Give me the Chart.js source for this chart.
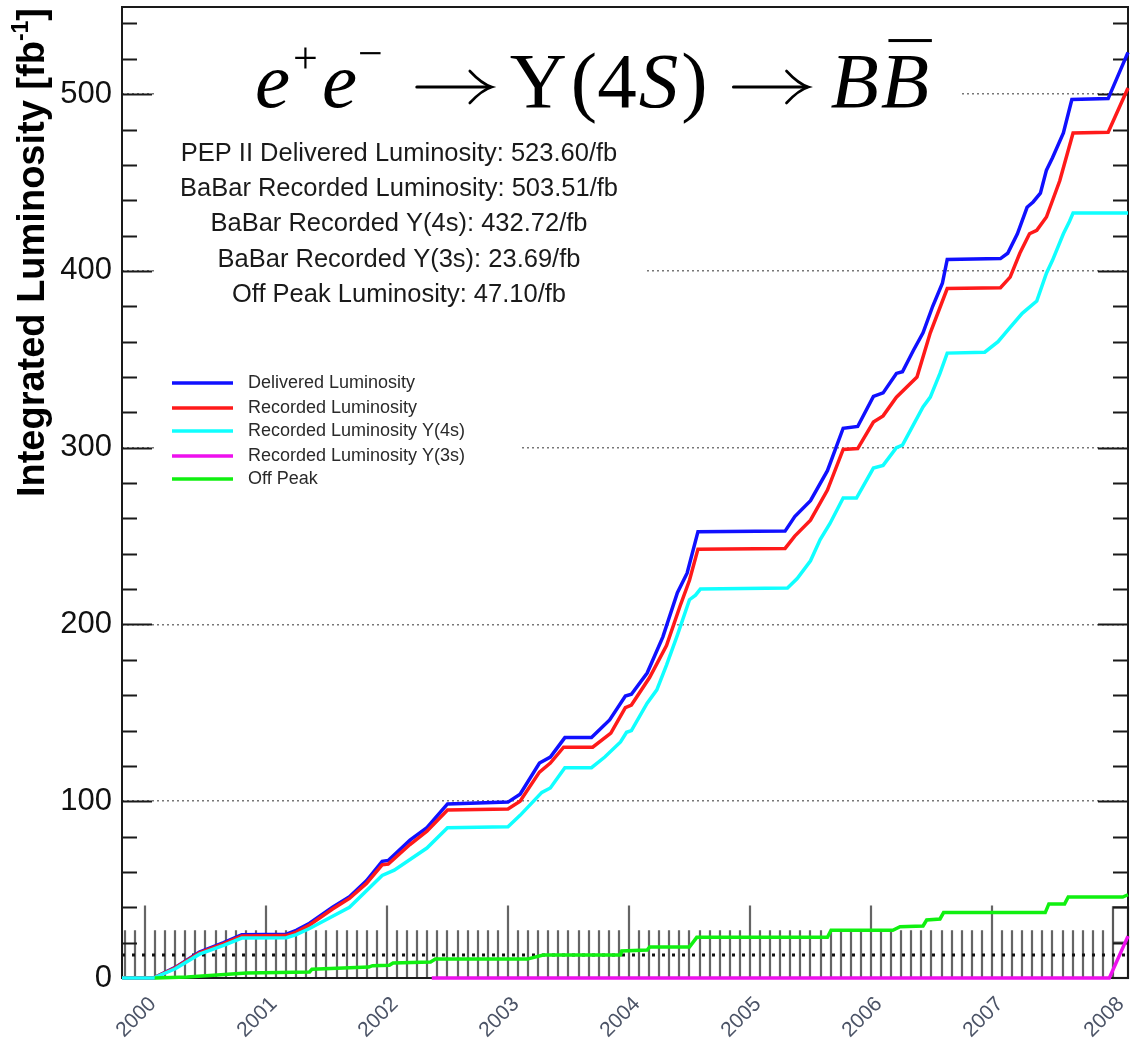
<!DOCTYPE html>
<html>
<head>
<meta charset="utf-8">
<title>BaBar integrated luminosity</title>
<script src="https://cdn.jsdelivr.net/npm/chart.js@4.4.1/dist/chart.umd.min.js"></script>
<style>
  html, body { margin: 0; padding: 0; background: #fff; }
  canvas { display: block; }
</style>
</head>
<body>
<canvas id="lumi" width="1135" height="1043"></canvas>
<script>
// ---- data: [decimal year, integrated luminosity in fb^-1] ----
const yearTicks = [2000, 2001, 2002, 2003, 2004, 2005, 2006, 2007, 2008];
const lumiTicks = [0, 100, 200, 300, 400, 500];

const delivered = [
  [1999.81, 0], [2000.07, 0], [2000.25, 6], [2000.45, 14.7], [2000.65, 20], [2000.80, 24.5],
  [2001.17, 24.8], [2001.25, 27], [2001.36, 31], [2001.55, 40], [2001.69, 46], [2001.83, 55],
  [2001.96, 66], [2002.01, 66.5], [2002.19, 78], [2002.33, 85], [2002.50, 98.5], [2003.00, 99.5],
  [2003.10, 104], [2003.26, 121.6], [2003.35, 125], [2003.47, 136], [2003.69, 136], [2003.84, 146],
  [2003.97, 159.5], [2004.02, 160.5], [2004.15, 172.5], [2004.28, 193], [2004.40, 218], [2004.48, 229],
  [2004.57, 252.5], [2005.29, 252.8], [2005.37, 261], [2005.50, 270], [2005.64, 287], [2005.77, 311],
  [2005.89, 312], [2006.02, 329], [2006.10, 331], [2006.21, 342], [2006.26, 343], [2006.35, 355],
  [2006.43, 365], [2006.51, 380], [2006.59, 393], [2006.63, 406.5], [2007.07, 407], [2007.13, 410],
  [2007.21, 421], [2007.29, 436], [2007.34, 439], [2007.40, 444], [2007.45, 457], [2007.50, 464],
  [2007.59, 478], [2007.66, 497], [2007.96, 497.5], [2008.124, 523.6]
];

const recorded = [
  [1999.81, 0], [2000.07, 0], [2000.25, 5.8], [2000.45, 14.2], [2000.65, 19.5], [2000.80, 23.8],
  [2001.17, 24], [2001.25, 26], [2001.36, 30], [2001.55, 39], [2001.69, 45], [2001.83, 53.5],
  [2001.96, 64], [2002.01, 64.5], [2002.19, 75.5], [2002.33, 83], [2002.50, 95], [2003.00, 95.6],
  [2003.10, 100], [2003.26, 116.5], [2003.35, 121.6], [2003.46, 130.6], [2003.70, 130.6], [2003.85, 138.5],
  [2003.97, 153], [2004.02, 154.4], [2004.17, 170], [2004.31, 188], [2004.42, 210], [2004.50, 225],
  [2004.57, 242.6], [2005.29, 243], [2005.37, 250], [2005.50, 259], [2005.64, 276], [2005.77, 299],
  [2005.89, 299.5], [2006.02, 314.5], [2006.10, 318], [2006.21, 328.6], [2006.38, 340], [2006.49, 365],
  [2006.63, 390], [2007.07, 390.5], [2007.15, 396.5], [2007.23, 410], [2007.31, 421], [2007.37, 423],
  [2007.45, 430.5], [2007.56, 451], [2007.67, 478], [2007.96, 478.5], [2008.124, 503.5]
];

const recorded4S = [
  [1999.81, 0], [2000.07, 0], [2000.25, 5.2], [2000.45, 13.5], [2000.65, 18.5], [2000.80, 22.6],
  [2001.17, 22.8], [2001.25, 24.5], [2001.36, 28], [2001.69, 40], [2001.96, 58], [2002.06, 61],
  [2002.33, 73.5], [2002.50, 85], [2003.00, 85.5], [2003.10, 92], [2003.28, 105], [2003.35, 107.5],
  [2003.47, 119], [2003.69, 119], [2003.80, 125], [2003.93, 133.5], [2003.98, 139], [2004.02, 140],
  [2004.15, 155.5], [2004.23, 163], [2004.31, 177], [2004.40, 194], [2004.50, 214], [2004.55, 216.6],
  [2004.59, 220], [2005.31, 220.6], [2005.39, 226], [2005.50, 236], [2005.58, 248], [2005.66, 257],
  [2005.77, 271.5], [2005.88, 271.5], [2006.02, 288.5], [2006.10, 290], [2006.21, 300], [2006.26, 301.5],
  [2006.43, 323], [2006.49, 328.6], [2006.57, 342], [2006.63, 353.5], [2006.94, 354], [2007.05, 360],
  [2007.15, 368], [2007.25, 376], [2007.37, 383], [2007.45, 398.7], [2007.50, 406], [2007.59, 421],
  [2007.64, 428], [2007.67, 432.7], [2008.124, 432.72]
];

const recorded3S = [
  [2002.37, 0], [2007.97, 0], [2008.124, 23.69]
];

const offPeak = [
  [2000.08, 0], [2000.35, 0.5], [2000.84, 2.8], [2001.36, 3.4], [2001.38, 5], [2001.85, 6.2],
  [2001.88, 7.0], [2002.02, 7.2], [2002.05, 8.5], [2002.36, 9], [2002.40, 10.7], [2003.16, 10.7],
  [2003.29, 13], [2003.93, 13], [2003.94, 15.3], [2004.15, 15.8], [2004.17, 17.5], [2004.50, 17.5],
  [2004.56, 23], [2005.64, 23], [2005.67, 27], [2006.18, 27], [2006.24, 29], [2006.43, 29.4],
  [2006.46, 32.8], [2006.57, 33.4], [2006.60, 37], [2007.44, 37], [2007.47, 41.9], [2007.60, 41.9],
  [2007.63, 45.8], [2008.08, 45.8], [2008.124, 47.1]
];

const seriesLabels = [
  'Delivered Luminosity', 'Recorded Luminosity', 'Recorded Luminosity Y(4s)',
  'Recorded Luminosity Y(3s)', 'Off Peak'
];
const seriesData = [delivered, recorded, recorded4S, recorded3S, offPeak];
const seriesColors = ['#1010ff', '#ff1a1a', '#10ffff', '#ee10ee', '#10f010'];

const summaryLines = [
  'PEP II Delivered Luminosity: 523.60/fb',
  'BaBar Recorded Luminosity: 503.51/fb',
  'BaBar Recorded Y(4s): 432.72/fb',
  'BaBar Recorded Y(3s): 23.69/fb',
  'Off Peak Luminosity: 47.10/fb'
];

// run-period marker histogram along the bottom of the frame (fb^-1)
const monthMarkHeight = 27;
const yearMarkHeight = 41;
const markerLevel = 13;
const lastBinTop = 40;
const lastBinMid = 20;

// ---- drawing helpers ----
const SANS = '"Liberation Sans", Arial, Helvetica, sans-serif';
const SERIF = '"Liberation Serif", "Times New Roman", serif';

// long reaction arrow, drawn with strokes so it has the width of a math arrow
function drawArrow(ctx, x, w, yAxis) {
  ctx.save();
  ctx.strokeStyle = '#000';
  ctx.lineWidth = 3;
  ctx.lineCap = 'round';
  ctx.beginPath();
  ctx.moveTo(x + 2, yAxis);
  ctx.lineTo(x + w - 2, yAxis);
  ctx.stroke();
  ctx.lineWidth = 2.6;
  ctx.beginPath();
  ctx.moveTo(x + w - 22, yAxis - 16);
  ctx.quadraticCurveTo(x + w - 10, yAxis - 3, x + w, yAxis);
  ctx.quadraticCurveTo(x + w - 10, yAxis + 3, x + w - 22, yAxis + 16);
  ctx.stroke();
  ctx.restore();
}

function drawFormula(ctx) {
  const F = 79, base = 107, centerX = 592;
  const it = `italic ${F}px ${SERIF}`;
  const rm = `${F}px ${SERIF}`;
  const sp = `${Math.round(F * 0.56)}px ${SERIF}`;
  const arrowW = 77;
  const parts = [
    { t: 'e', f: it }, { t: '+', f: sp, dy: -F * 0.43, gap: 3 },
    { t: 'e', f: it, gap: 4 }, { t: '\u2212', f: sp, dy: -F * 0.5, gap: 1 },
    { arrow: true, gap: 32 },
    { t: '\u03A5', f: rm, gap: 18 }, { t: '(4', f: rm, gap: 4 },
    { t: 'S', f: it, gap: 2 }, { t: ')', f: rm, gap: 3 },
    { arrow: true, gap: 24 },
    { t: 'B', f: it, gap: 22 }, { t: 'B', f: it, bar: true, gap: 2 }
  ];
  let total = 0;
  parts.forEach(p => {
    if (p.arrow) p.w = arrowW;
    else { ctx.font = p.f; p.w = ctx.measureText(p.t).width; }
    total += p.w + (p.gap || 0);
  });
  let x = centerX - total / 2;
  ctx.fillStyle = '#000';
  ctx.textAlign = 'left';
  ctx.textBaseline = 'alphabetic';
  parts.forEach(p => {
    x += p.gap || 0;
    if (p.arrow) {
      drawArrow(ctx, x, p.w, base - 20);
    } else {
      ctx.font = p.f;
      ctx.fillText(p.t, x, base + (p.dy || 0));
      if (p.bar) ctx.fillRect(x + p.w * 0.16, base - F * 0.86, p.w * 0.9, 3);
    }
    x += p.w;
  });
}

function drawYTitle(ctx) {
  const F = 38;
  const main = 'Integrated Luminosity [fb';
  const sup = '-1';
  const close = ']';
  ctx.save();
  ctx.translate(44, 8);
  ctx.rotate(-Math.PI / 2);
  ctx.fillStyle = '#000';
  ctx.textAlign = 'left';
  ctx.textBaseline = 'alphabetic';
  ctx.font = `bold ${F}px ${SANS}`;
  const wMain = ctx.measureText(main).width;
  const wClose = ctx.measureText(close).width;
  ctx.font = `bold ${Math.round(F * 0.6)}px ${SANS}`;
  const wSup = ctx.measureText(sup).width;
  const start = -(wMain + wSup + wClose);
  ctx.font = `bold ${F}px ${SANS}`;
  ctx.fillText(main, start, 0);
  ctx.fillText(close, start + wMain + wSup, 0);
  ctx.font = `bold ${Math.round(F * 0.6)}px ${SANS}`;
  ctx.fillText(sup, start + wMain, -F * 0.42);
  ctx.restore();
}

// white panels behind the text blocks
const panels = [
  { x: 157, y: 16, w: 803, h: 110 },
  { x: 157, y: 130, w: 488, h: 182 },
  { x: 157, y: 364, w: 363, h: 128 }
];

const decorations = {
  id: 'decorations',
  beforeDatasetsDraw(chart) {
    const { ctx, chartArea: a, scales: { x, y } } = chart;
    ctx.save();
    ctx.fillStyle = '#fff';
    panels.forEach(p => ctx.fillRect(p.x, p.y, p.w, p.h));

    // monthly / yearly markers rising from the bottom edge
    ctx.strokeStyle = 'rgba(50,50,50,0.75)';
    ctx.lineWidth = 2.2;
    ctx.beginPath();
    const y0 = y.getPixelForValue(0);
    for (let yr = 1999; yr <= 2007; yr++) {
      for (let k = 0; k < 12; k++) {
        const t = yr + k / 12;
        if (t < x.min + 0.005) continue;
        const px = Math.round(x.getPixelForValue(t));
        const top = y.getPixelForValue(k === 0 ? yearMarkHeight : monthMarkHeight);
        ctx.moveTo(px, y0);
        ctx.lineTo(px, top);
      }
    }
    ctx.stroke();

    // last bin box
    const bx0 = x.getPixelForValue(2008), bx1 = a.right;
    ctx.strokeStyle = 'rgba(60,60,60,0.85)';
    ctx.strokeRect(bx0, y.getPixelForValue(lastBinTop), bx1 - bx0, y0 - y.getPixelForValue(lastBinTop));
    ctx.beginPath();
    ctx.moveTo(bx0, y.getPixelForValue(lastBinMid));
    ctx.lineTo(bx1, y.getPixelForValue(lastBinMid));
    ctx.stroke();

    // dotted level line
    ctx.strokeStyle = '#111';
    ctx.lineWidth = 3;
    ctx.setLineDash([3, 7]);
    ctx.beginPath();
    const ly = y.getPixelForValue(markerLevel);
    ctx.moveTo(a.left, ly);
    ctx.lineTo(a.right, ly);
    ctx.stroke();
    ctx.setLineDash([]);

    // frame
    ctx.strokeStyle = '#1a1a1a';
    ctx.lineWidth = 2;
    ctx.strokeRect(a.left, a.top, a.right - a.left, a.bottom - a.top);

    // y axis tick marks on both sides
    ctx.lineWidth = 2;
    ctx.beginPath();
    for (let v = 20; v <= y.max; v += 20) {
      const py = Math.round(y.getPixelForValue(v)) + 0.5;
      const len = v % 100 === 0 ? 30 : 15;
      ctx.moveTo(a.left, py); ctx.lineTo(a.left + len, py);
      ctx.moveTo(a.right, py); ctx.lineTo(a.right - len, py);
    }
    ctx.stroke();
    ctx.restore();
  },
  afterDraw(chart) {
    const { ctx } = chart;
    ctx.save();
    drawFormula(ctx);

    // summary lines
    ctx.fillStyle = '#1a1a1a';
    ctx.font = `25.5px ${SANS}`;
    ctx.textAlign = 'center';
    ctx.textBaseline = 'alphabetic';
    summaryLines.forEach((s, i) => ctx.fillText(s, 399, 161 + i * 35.2));

    // legend
    const ly = [383, 408, 431, 456, 479];
    ctx.font = `18px ${SANS}`;
    ctx.textAlign = 'left';
    ctx.textBaseline = 'middle';
    chart.data.datasets.forEach((ds, i) => {
      ctx.strokeStyle = ds.borderColor;
      ctx.lineWidth = 3.5;
      ctx.beginPath();
      ctx.moveTo(172, ly[i]);
      ctx.lineTo(233, ly[i]);
      ctx.stroke();
      ctx.fillStyle = '#2a2a2a';
      ctx.fillText(ds.label, 248, ly[i]);
    });

    drawYTitle(ctx);
    ctx.restore();
  }
};

// keep the plot frame at fixed edges: no extra label padding around the axes
function noPadding(s) {
  s.paddingTop = 0; s.paddingBottom = 0; s.paddingLeft = 0; s.paddingRight = 0;
}

Chart.defaults.font.family = SANS;

new Chart(document.getElementById('lumi'), {
  type: 'line',
  data: {
    datasets: seriesData.map((pts, i) => ({
      label: seriesLabels[i],
      data: pts.map(([t, v]) => ({ x: t, y: v })),
      borderColor: seriesColors[i],
      backgroundColor: seriesColors[i],
      borderWidth: 3.5,
      pointRadius: 0,
      tension: 0,
      fill: false,
      clip: 4,
      order: seriesData.length - i
    }))
  },
  options: {
    responsive: false,
    animation: false,
    layout: { padding: { top: 7, right: 7, left: 0, bottom: 0 } },
    plugins: { legend: { display: false }, tooltip: { enabled: false } },
    scales: {
      x: {
        type: 'linear',
        min: 1999.81,
        max: 2008.124,
        afterBuildTicks: s => { s.ticks = yearTicks.map(v => ({ value: v })); },
        afterFit: s => { s.height = 65; noPadding(s); },
        grid: { display: false, drawTicks: false },
        border: { display: false },
        ticks: {
          autoSkip: false,
          minRotation: 45,
          maxRotation: 45,
          padding: 14,
          labelOffset: 8,
          color: '#4b5366',
          font: { size: 21 },
          callback: v => String(v)
        }
      },
      y: {
        type: 'linear',
        min: 0,
        max: 549.3,
        afterBuildTicks: s => { s.ticks = lumiTicks.map(v => ({ value: v })); },
        afterFit: s => { s.width = 122; noPadding(s); },
        grid: {
          drawTicks: false,
          lineWidth: 1.5,
          color: ctx => (ctx.tick && ctx.tick.value === 0 ? 'rgba(0,0,0,0)' : '#777'),
          borderDash: [2, 3]
        },
        border: { display: false, dash: [2, 3] },
        ticks: {
          padding: 10,
          color: '#111',
          font: { size: 31 },
          callback: v => String(v)
        }
      }
    }
  },
  plugins: [decorations]
});
</script>
</body>
</html>
